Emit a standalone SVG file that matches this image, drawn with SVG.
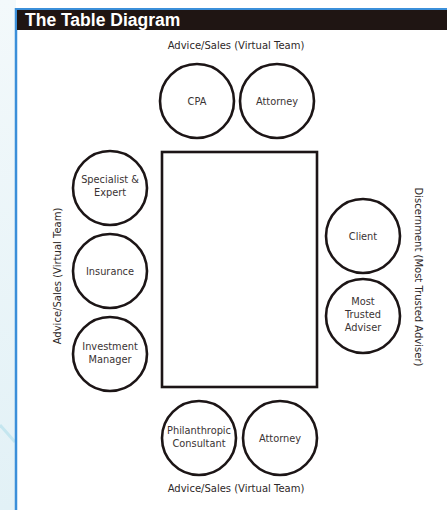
<svg xmlns="http://www.w3.org/2000/svg" width="447" height="510" viewBox="0 0 447 510">
<defs>
<linearGradient id="bg" x1="0" y1="0" x2="0" y2="1">
<stop offset="0" stop-color="#f3f9fb"/>
<stop offset="1" stop-color="#e2f1f6"/>
</linearGradient>
</defs>
<style>
.seat{fill:#ffffff;stroke:#1c1516;stroke-width:2.6}
.lbl{font-family:"DejaVu Sans","Liberation Sans",sans-serif;font-size:9.8px;fill:#3a3333;text-anchor:middle}
.side{font-family:"DejaVu Sans","Liberation Sans",sans-serif;font-size:10px;fill:#2e2828;text-anchor:middle}
</style>
<rect x="0" y="0" width="447" height="510" fill="#ffffff"/>
<rect x="0" y="0" width="16" height="510" fill="url(#bg)"/>
<line x1="0" y1="425" x2="15" y2="442" stroke="#c5e6ef" stroke-width="3"/>
<line x1="16" y1="9" x2="447" y2="9" stroke="#3b8fd9" stroke-width="2"/>
<line x1="16" y1="8" x2="16" y2="510" stroke="#3b8fd9" stroke-width="2.5"/>
<rect x="17" y="10" width="430" height="20" fill="#1f1513"/>
<text x="25" y="26" font-family="Liberation Sans,Arial,sans-serif" font-size="17.5" font-weight="bold" fill="#ffffff">The Table Diagram</text>

<text class="side" x="236" y="49">Advice/Sales (Virtual Team)</text>
<text class="side" x="236" y="492">Advice/Sales (Virtual Team)</text>
<text class="side" transform="translate(61,276) rotate(-90)">Advice/Sales (Virtual Team)</text>
<text class="side" transform="translate(415,277) rotate(90)">Discernment (Most Trusted Adviser)</text>

<g id="table"><rect class="seat" x="162" y="152" width="155" height="235"/></g>

<g id="cpa"><circle class="seat" cx="197" cy="101" r="37"/><text class="lbl" x="197" y="104.5">CPA</text></g>
<g id="attorney-top"><circle class="seat" cx="277" cy="101" r="37"/><text class="lbl" x="277" y="104.5">Attorney</text></g>

<g id="specialist"><circle class="seat" cx="110" cy="188" r="37"/><text class="lbl" x="110" y="183">Specialist &amp;</text><text class="lbl" x="110" y="196">Expert</text></g>
<g id="insurance"><circle class="seat" cx="110" cy="271" r="37"/><text class="lbl" x="110" y="274.5">Insurance</text></g>
<g id="investment"><circle class="seat" cx="110" cy="354" r="37"/><text class="lbl" x="110" y="350">Investment</text><text class="lbl" x="110" y="363">Manager</text></g>

<g id="client"><circle class="seat" cx="363" cy="236" r="37"/><text class="lbl" x="363" y="239.5">Client</text></g>
<g id="adviser"><circle class="seat" cx="363" cy="316" r="37"/><text class="lbl" x="363" y="305">Most</text><text class="lbl" x="363" y="318">Trusted</text><text class="lbl" x="363" y="331">Adviser</text></g>

<g id="philanthropic"><circle class="seat" cx="199" cy="438" r="37"/><text class="lbl" x="199" y="434">Philanthropic</text><text class="lbl" x="199" y="447">Consultant</text></g>
<g id="attorney-bottom"><circle class="seat" cx="280" cy="438" r="37"/><text class="lbl" x="280" y="441.5">Attorney</text></g>
</svg>
